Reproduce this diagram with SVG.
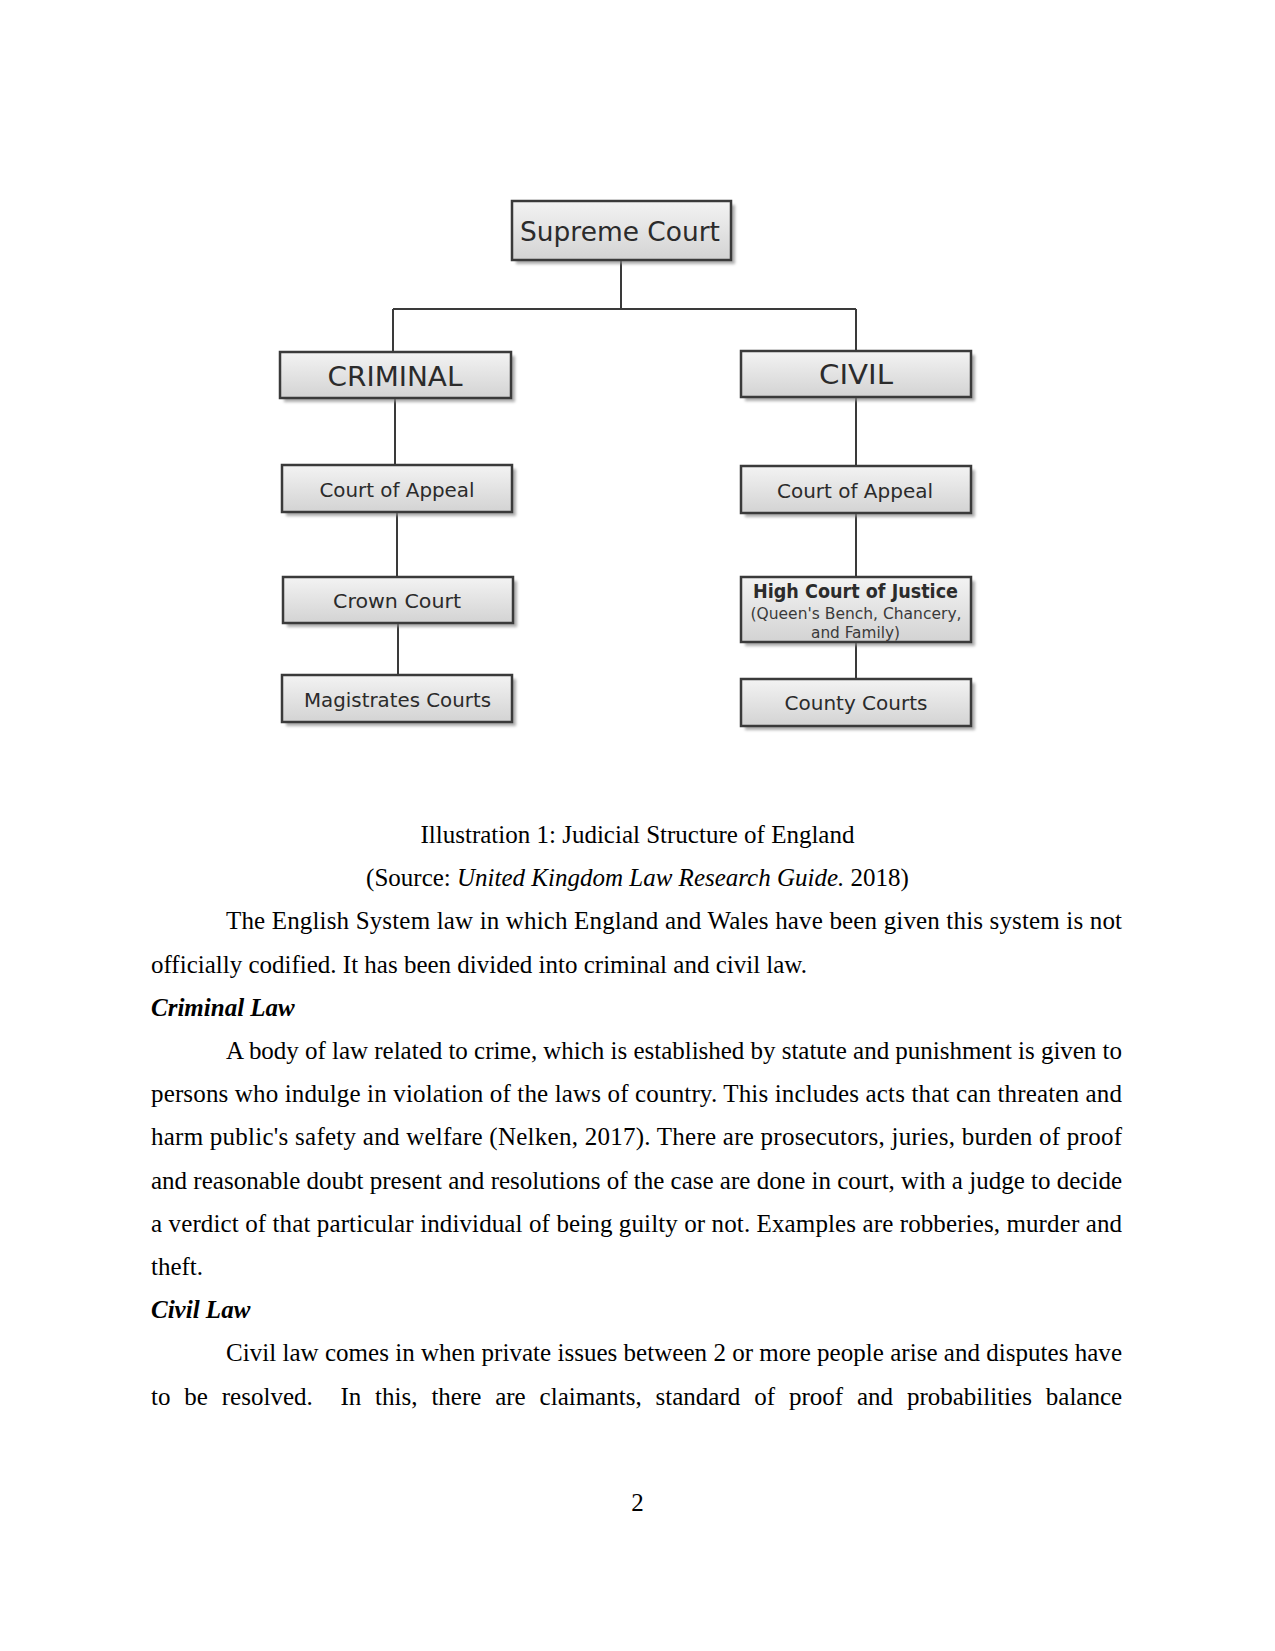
<svg xmlns="http://www.w3.org/2000/svg" width="1275" height="1651" viewBox="0 0 1275 1651">
<defs>
<linearGradient id="boxfill" x1="0" y1="0" x2="0" y2="1">
<stop offset="0" stop-color="#f3f3f3"/>
<stop offset="1" stop-color="#d3d3d3"/>
</linearGradient>
<filter id="shadow" x="-10%" y="-20%" width="130%" height="160%">
<feGaussianBlur stdDeviation="1.5"/>
</filter>
<style>
.box{fill:url(#boxfill);stroke:#3a3a3a;stroke-width:2.5}
.shd{fill:#8a8a8a;opacity:0.7;filter:url(#shadow)}
.lbl{font-family:"DejaVu Sans","Verdana",sans-serif;fill:#2b2b2b;text-anchor:middle}
.big{font-size:27px}
.mid{font-size:20px}
.sm{font-size:15px;fill:#3a3a3a}
.b{font-weight:bold}
.con{stroke:#3a3a3a;stroke-width:2;fill:none}
.body{font-family:"Liberation Serif","Times New Roman",serif;font-size:25px;fill:#000}
.ctr{text-anchor:middle}
.hd{font-weight:bold;font-style:italic}
</style>
</defs>
<rect width="1275" height="1651" fill="#fff"/>
<g id="connectors">
<path class="con" d="M621 260 V309 M393 309 H856 M393 309 V352 M856 309 V351 M395 398 V465 M397 512 V577 M398 623 V675 M856 397 V466 M856 513 V577 M856 642 V679"/>
</g>
<g id="supreme-court">
<rect class="shd" x="516" y="205" width="219" height="59"/>
<rect class="box" x="512" y="201" width="219" height="59"/>
<text class="lbl big" x="620" y="241" textLength="200" lengthAdjust="spacingAndGlyphs">Supreme Court</text>
</g>
<g id="criminal">
<rect class="shd" x="284" y="356" width="231" height="46"/>
<rect class="box" x="280" y="352" width="231" height="46"/>
<text class="lbl big" x="395" y="386" textLength="135" lengthAdjust="spacingAndGlyphs">CRIMINAL</text>
</g>
<g id="civil">
<rect class="shd" x="745" y="355" width="230" height="46"/>
<rect class="box" x="741" y="351" width="230" height="46"/>
<text class="lbl big" x="856" y="384" textLength="74" lengthAdjust="spacingAndGlyphs">CIVIL</text>
</g>
<g id="criminal-court-of-appeal">
<rect class="shd" x="286" y="469" width="230" height="47"/>
<rect class="box" x="282" y="465" width="230" height="47"/>
<text class="lbl mid" x="397" y="497" textLength="155" lengthAdjust="spacingAndGlyphs">Court of Appeal</text>
</g>
<g id="civil-court-of-appeal">
<rect class="shd" x="745" y="470" width="230" height="47"/>
<rect class="box" x="741" y="466" width="230" height="47"/>
<text class="lbl mid" x="855" y="498" textLength="156" lengthAdjust="spacingAndGlyphs">Court of Appeal</text>
</g>
<g id="crown-court">
<rect class="shd" x="287" y="581" width="230" height="46"/>
<rect class="box" x="283" y="577" width="230" height="46"/>
<text class="lbl mid" x="397" y="608" textLength="128" lengthAdjust="spacingAndGlyphs">Crown Court</text>
</g>
<g id="magistrates-courts">
<rect class="shd" x="286" y="679" width="230" height="47"/>
<rect class="box" x="282" y="675" width="230" height="47"/>
<text class="lbl mid" x="397.5" y="707" textLength="187" lengthAdjust="spacingAndGlyphs">Magistrates Courts</text>
</g>
<g id="high-court">
<rect class="shd" x="745" y="581" width="230" height="65"/>
<rect class="box" x="741" y="577" width="230" height="65"/>
<text class="lbl mid b" x="855.5" y="598" font-size="19" textLength="205" lengthAdjust="spacingAndGlyphs">High Court of Justice</text>
<text class="lbl sm" x="856" y="619" textLength="211" lengthAdjust="spacingAndGlyphs">(Queen's Bench, Chancery,</text>
<text class="lbl sm" x="855.5" y="637.5" textLength="89" lengthAdjust="spacingAndGlyphs">and Family)</text>
</g>
<g id="county-courts">
<rect class="shd" x="745" y="683" width="230" height="47"/>
<rect class="box" x="741" y="679" width="230" height="47"/>
<text class="lbl mid" x="856" y="710" textLength="143" lengthAdjust="spacingAndGlyphs">County Courts</text>
</g>
<g id="text">
<text class="body ctr" x="637.5" y="843">Illustration 1: Judicial Structure of England</text>
<text class="body ctr" x="637.5" y="886.2">(Source: <tspan font-style="italic">United Kingdom Law Research Guide.</tspan> 2018)</text>
<text class="body" x="226" y="929.4" textLength="896" lengthAdjust="spacing">The English System law in which England and Wales have been given this system is not</text>
<text class="body" x="151" y="972.6">officially codified. It has been divided into criminal and civil law.</text>
<text class="body hd" x="151" y="1015.8">Criminal Law</text>
<text class="body" x="226" y="1059" textLength="896" lengthAdjust="spacing">A body of law related to crime, which is established by statute and punishment is given to</text>
<text class="body" x="151" y="1102.2" textLength="971" lengthAdjust="spacing">persons who indulge in violation of the laws of country. This includes acts that can threaten and</text>
<text class="body" x="151" y="1145.4" textLength="971" lengthAdjust="spacing">harm public's safety and welfare (Nelken, 2017). There are prosecutors, juries, burden of proof</text>
<text class="body" x="151" y="1188.6" textLength="971" lengthAdjust="spacing">and reasonable doubt present and resolutions of the case are done in court, with a judge to decide</text>
<text class="body" x="151" y="1231.8" textLength="971" lengthAdjust="spacing">a verdict of that particular individual of being guilty or not. Examples are robberies, murder and</text>
<text class="body" x="151" y="1275">theft.</text>
<text class="body hd" x="151" y="1318.2">Civil Law</text>
<text class="body" x="226" y="1361.4" textLength="896" lengthAdjust="spacing">Civil law comes in when private issues between 2 or more people arise and disputes have</text>
<text class="body" y="1404.6"><tspan x="151">to</tspan><tspan x="184.3">be</tspan><tspan x="221.8">resolved.</tspan><tspan x="340.4">In</tspan><tspan x="375.1">this,</tspan><tspan x="431.4">there</tspan><tspan x="495.2">are</tspan><tspan x="539.6">claimants,</tspan><tspan x="655.6">standard</tspan><tspan x="754.2">of</tspan><tspan x="788.9">proof</tspan><tspan x="856.9">and</tspan><tspan x="906.9">probabilities</tspan><tspan x="1045.8">balance</tspan></text>
<text class="body ctr" x="637.5" y="1511">2</text>
</g>
</svg>
